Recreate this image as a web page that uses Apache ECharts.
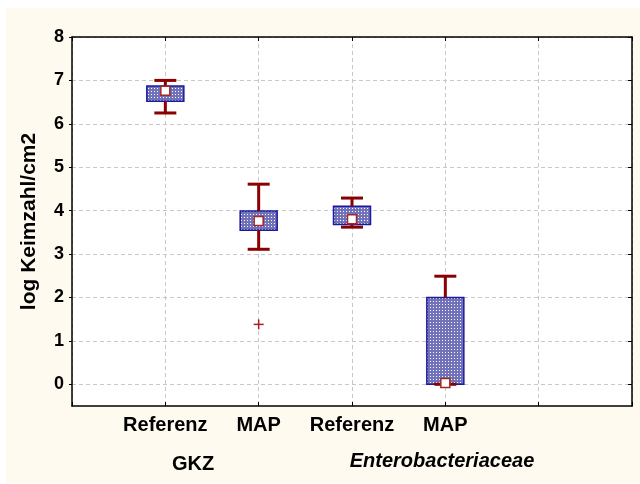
<!DOCTYPE html>
<html>
<head>
<meta charset="utf-8">
<script src="https://cdn.jsdelivr.net/npm/echarts@6/dist/echarts.min.js"></script>
<style>
html,body{margin:0;padding:0;background:#ffffff;}
#wrap{position:relative;width:640px;height:484px;background:#ffffff;overflow:hidden;}
#cream{position:absolute;left:6px;top:8px;width:634px;height:475px;background:#fefaef;}
#chart{position:absolute;left:0;top:0;width:640px;height:484px;}
</style>
</head>
<body>
<div id="wrap"><div id="cream"></div><div id="chart"></div></div>
<script>
// ---- data ----
const positions = [1, 2, 3, 4];
const categories = ['Referenz', 'MAP', 'Referenz', 'MAP'];
const groups = ['GKZ', 'Enterobacteriaceae'];
const whiskerLow = [6.25, 3.11, 3.62, 0.0];
const q1 = [6.52, 3.55, 3.68, 0.0];
const median = [6.76, 3.76, 3.80, 0.03];
const q3 = [6.87, 3.99, 4.10, 2.0];
const whiskerHigh = [7.0, 4.61, 4.29, 2.49];
const outlierX = [2];
const outlierY = [1.38];
const yTicks = [0, 1, 2, 3, 4, 5, 6, 7, 8];

// ---- pattern for box fill ----
const pc = document.createElement('canvas');
pc.width = 3; pc.height = 3;
const pctx = pc.getContext('2d');
pctx.fillStyle = '#7272ba';
pctx.fillRect(0, 0, 3, 3);
pctx.fillStyle = '#ffffff';
pctx.fillRect(1, 1, 1, 1);
const boxPattern = { image: pc, repeat: 'repeat' };

const boxData = positions.map((p, i) => [p, whiskerLow[i], q1[i], median[i], q3[i], whiskerHigh[i]]);
const outlierData = outlierX.map((x, i) => [x, outlierY[i]]);

const FONT = '"Liberation Sans", Arial, sans-serif';
const RED = '#8b0000';

const chart = echarts.init(document.getElementById('chart'), null, { renderer: 'canvas' });
chart.setOption({
  backgroundColor: 'transparent',
  animation: false,
  grid: { left: 72, top: 37, right: 8, bottom: 78, show: true, backgroundColor: '#ffffff', borderWidth: 0 },
  xAxis: [{
    type: 'value', min: 0, max: 6, interval: 1, position: 'bottom',
    axisLine: { show: true, onZero: false, lineStyle: { color: '#000', width: 1.5 } },
    axisTick: { show: true, inside: true, length: 4, lineStyle: { color: '#000', width: 1 } },
    axisLabel: {
      show: true, margin: 9, fontFamily: FONT, fontWeight: 'bold', fontSize: 20, color: '#000',
      formatter: v => { const i = positions.indexOf(v); return i >= 0 ? categories[i] : ''; }
    },
    splitLine: { show: true, lineStyle: { color: '#c8c8c8', type: [4, 3], width: 1 } }
  }, {
    type: 'value', min: 0, max: 6, interval: 1, position: 'top',
    axisLine: { show: true, onZero: false, lineStyle: { color: '#000', width: 1.5 } },
    axisTick: { show: true, inside: true, length: 4, lineStyle: { color: '#000', width: 1 } },
    axisLabel: { show: false },
    splitLine: { show: false }
  }],
  yAxis: [{
    type: 'value', min: -0.5, max: 8, position: 'left',
    name: 'log Keimzahl/cm2', nameLocation: 'middle', nameRotate: 90, nameGap: 32,
    nameTextStyle: { fontFamily: FONT, fontWeight: 'bold', fontSize: 21, color: '#000' },
    axisLine: { show: true, onZero: false, lineStyle: { color: '#000', width: 1.5 } },
    axisTick: { show: true, inside: false, length: 3, customValues: yTicks, lineStyle: { color: '#000', width: 1 } },
    axisLabel: { show: true, margin: 8, customValues: yTicks, fontFamily: FONT, fontWeight: 'bold', fontSize: 18, color: '#000' },
    splitLine: { show: true, lineStyle: { color: '#c8c8c8', type: [4, 3], width: 1 } }
  }, {
    type: 'value', min: -0.5, max: 8, position: 'right',
    axisLine: { show: true, onZero: false, lineStyle: { color: '#000', width: 1.5 } },
    axisTick: { show: true, inside: true, length: 4, customValues: yTicks, lineStyle: { color: '#000', width: 1 } },
    axisLabel: { show: false },
    splitLine: { show: false }
  }],
  graphic: [
    { type: 'text', style: { text: groups[0], align: 'center', verticalAlign: 'middle',
      font: 'bold 20px ' + FONT, fill: '#000' }, position: [193, 464] },
    { type: 'text', style: { text: groups[1], align: 'center', verticalAlign: 'middle',
      font: 'italic bold 20px ' + FONT, fill: '#000' }, position: [442, 461] }
  ],
  series: [{
    type: 'custom',
    xAxisIndex: 0, yAxisIndex: 0,
    data: boxData,
    encode: { x: 0, y: [1, 2, 3, 4, 5] },
    renderItem: function (params, api) {
      const x = api.value(0);
      const cx = api.coord([x, 0])[0];
      const yLo = api.coord([x, api.value(1)])[1];
      const yQ1 = api.coord([x, api.value(2)])[1];
      const yMed = api.coord([x, api.value(3)])[1];
      const yQ3 = api.coord([x, api.value(4)])[1];
      const yHi = api.coord([x, api.value(5)])[1];
      const bw = 37, cw = 22, ms = 9;
      const wStyle = { stroke: RED, lineWidth: 3, fill: null };
      return {
        type: 'group',
        children: [
          { type: 'rect', shape: { x: cx - bw / 2, y: yQ3, width: bw, height: yQ1 - yQ3 },
            style: { fill: boxPattern, stroke: '#1a1aa0', lineWidth: 1.5 } },
          { type: 'line', shape: { x1: cx, y1: yQ3, x2: cx, y2: yHi }, style: wStyle },
          { type: 'line', shape: { x1: cx - cw / 2, y1: yHi, x2: cx + cw / 2, y2: yHi }, style: wStyle },
          { type: 'line', shape: { x1: cx, y1: yQ1, x2: cx, y2: yLo }, style: wStyle },
          { type: 'line', shape: { x1: cx - cw / 2, y1: yLo, x2: cx + cw / 2, y2: yLo }, style: wStyle },
          { type: 'rect', shape: { x: cx - ms / 2, y: yMed - ms / 2, width: ms, height: ms },
            style: { fill: '#ffffff', stroke: '#a02828', lineWidth: 1.5 } }
        ]
      };
    }
  }, {
    type: 'custom',
    xAxisIndex: 0, yAxisIndex: 0,
    data: outlierData,
    renderItem: function (params, api) {
      const p = api.coord([api.value(0), api.value(1)]);
      const s = 5;
      const st = { stroke: '#a82020', lineWidth: 1.5, fill: null };
      return {
        type: 'group',
        children: [
          { type: 'line', shape: { x1: p[0] - s, y1: p[1], x2: p[0] + s, y2: p[1] }, style: st },
          { type: 'line', shape: { x1: p[0], y1: p[1] - s, x2: p[0], y2: p[1] + s }, style: st }
        ]
      };
    }
  }]
});
</script>
</body>
</html>
